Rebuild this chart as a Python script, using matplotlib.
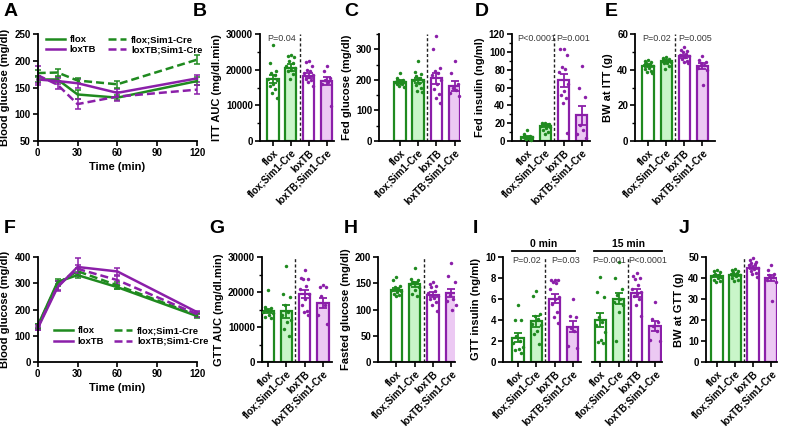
import matplotlib
matplotlib.use('Agg')
import matplotlib.pyplot as plt
import numpy as np
from matplotlib.ticker import MultipleLocator
from matplotlib.lines import Line2D

plt.rcParams['font.family'] = ['Liberation Sans', 'DejaVu Sans']
plt.rcParams['font.weight'] = 'bold'
plt.rcParams['axes.labelweight'] = 'bold'

GREEN = '#1f8a1f'
PURPLE = '#8b1fa9'
LGREEN = '#c9f5c9'
LPURPLE = '#ecc9f3'

groups = ['flox', 'flox;Sim1-Cre', 'loxTB', 'loxTB;Sim1-Cre']

# ---------------- line chart data ----------------
time = [0, 15, 30, 60, 120]
itt_flox = [165, 165, 137, 131, 162]
itt_flox_sem = [5, 5, 8, 5, 8]
itt_floxcre = [177, 178, 163, 156, 202]
itt_floxcre_sem = [6, 6, 5, 6, 9]
itt_lox = [165, 162, 158, 140, 167]
itt_lox_sem = [6, 5, 8, 8, 7]
itt_loxcre = [173, 155, 119, 133, 146]
itt_loxcre_sem = [18, 8, 10, 8, 9]

gtt_flox = [138, 305, 331, 285, 175]
gtt_flox_sem = [8, 10, 10, 8, 7]
gtt_floxcre = [135, 300, 346, 292, 178]
gtt_floxcre_sem = [8, 10, 12, 12, 8]
gtt_lox = [128, 285, 362, 345, 190]
gtt_lox_sem = [6, 12, 35, 12, 6]
gtt_loxcre = [132, 290, 355, 312, 182]
gtt_loxcre_sem = [10, 20, 15, 15, 10]

# ---------------- bar chart data ----------------
# B: ITT AUC
B_mean = [17400, 20600, 18300, 16800]
B_sem = [1000, 900, 700, 1100]
B_dots = [[27000, 22000, 19500, 19000, 18500, 17500, 17000, 16000, 15500, 14500, 13500, 12000],
          [24000, 23800, 23500, 22500, 21800, 21000, 20500, 20000, 19500, 18800, 17500],
          [22300, 22100, 21000, 20000, 19500, 19000, 18500, 18000, 17500, 17000, 16500, 15500],
          [21000, 19600, 17800, 17000, 16500, 16000, 9800]]
# C: Fed glucose
C_mean = [194, 199, 205, 180]
C_sem = [4, 8, 18, 15]
C_dots = [[223, 205, 200, 198, 196, 194, 192, 190, 188, 185, 180, 176],
          [262, 225, 220, 212, 205, 200, 195, 190, 183, 175, 165, 160],
          [345, 300, 240, 230, 222, 215, 200, 185, 170, 155, 140, 125],
          [262, 222, 185, 175, 168, 158, 148]]
# D: Fed insulin
D_mean = [5.0, 17.0, 68.0, 28.7]
D_sem = [1.0, 1.8, 7.5, 11.0]
D_dots = [[12, 8, 6, 5, 5, 4, 4, 3, 3, 2, 2, 1],
          [20, 20, 19.5, 19, 18, 17, 16, 15, 12, 10, 8],
          [103, 103, 96, 83, 81, 77, 64, 56, 52, 48.5, 43, 9.5],
          [84, 60, 49, 18, 12, 8, 3]]
# E: BW at ITT
E_mean = [42.1, 44.9, 47.4, 42.1]
E_sem = [0.8, 0.7, 0.8, 1.6]
E_dots = [[45.5, 45, 44.5, 44, 43, 42.5, 42, 41, 40.5, 39.5, 38.5, 38],
          [47, 46.5, 46, 45.5, 45, 45, 44.5, 44, 43.5, 42, 40.5],
          [52.5, 51, 50.5, 50, 49, 48, 47.5, 47, 46, 45, 44.5, 43.5],
          [47.8, 45.5, 44.5, 43.5, 42.5, 41, 40, 31.4]]
# G: GTT AUC
G_mean = [14570, 14480, 19430, 16860]
G_sem = [700, 1800, 1200, 1500]
G_dots = [[20700, 15700, 15400, 15000, 14600, 14300, 14000, 13500, 13000, 12600],
          [27400, 19300, 18500, 16200, 14300, 13300, 12000, 11400, 9500, 7400],
          [26200, 24000, 23800, 23600, 21700, 20800, 19300, 18100, 16200, 14500, 14300, 13300],
          [22000, 21500, 21300, 19000, 16200, 13300, 11000]]
# H: Fasted glucose
H_mean = [138, 148, 128, 132]
H_sem = [3.5, 4.5, 4.5, 8]
H_dots = [[162, 156, 145, 143, 140, 138, 136, 133, 130, 127, 125],
          [180, 159, 156, 153, 150, 148, 143, 137, 130, 125],
          [152, 148, 145, 142, 136, 131, 126, 121, 120, 115, 108, 98],
          [189, 164, 152, 127, 120, 117, 109, 100]]
# I: GTT insulin, 0 min and 15 min
I0_mean = [2.32, 3.87, 6.03, 3.37]
I0_sem = [0.45, 0.5, 0.4, 0.55]
I0_dots = [[5.4, 4.0, 4.0, 2.5, 2.0, 1.8, 1.4, 1.2, 1.1, 0.9],
           [6.8, 6.3, 4.6, 4.4, 4.1, 3.6, 3.5, 3.0, 2.7, 1.7],
           [7.8, 7.8, 7.8, 7.6, 7.5, 7.0, 6.2, 6.0, 5.5, 4.8, 4.3, 3.7],
           [6.0, 4.4, 4.3, 3.2, 3.0, 1.5, 1.3]]
I15_mean = [4.03, 6.03, 6.57, 3.43]
I15_sem = [0.65, 0.55, 0.35, 0.45]
I15_dots = [[8.1, 6.7, 6.2, 4.3, 3.8, 3.5, 2.9, 2.1, 1.9, 1.8],
            [9.5, 8.0, 7.0, 6.4, 6.0, 5.7, 5.4, 4.8, 2.0],
            [8.5, 8.2, 8.0, 7.9, 7.3, 7.0, 6.7, 6.5, 6.3, 6.0, 5.4, 4.4],
            [5.7, 4.1, 3.8, 3.4, 3.0, 2.1, 2.0]]
# J: BW at GTT
J_mean = [40.95, 41.6, 44.9, 40.0]
J_sem = [0.6, 0.5, 0.7, 1.5]
J_dots = [[43.7, 43.2, 42.8, 42, 41.5, 41, 40.5, 40, 39, 38.5, 38],
          [44.5, 44, 43.5, 43, 42.5, 42, 41.5, 41, 40, 39, 38.5],
          [49.5, 48.5, 47.5, 47, 46.5, 46, 45, 44.5, 43.5, 42.5, 42, 40.5],
          [46.3, 43.6, 42, 41.2, 40.5, 39, 38, 28.9]]

# ---------------- figure ----------------
W, H = 786, 429
fig = plt.figure(figsize=(W / 100, H / 100), dpi=100)

def add_ax(x0, x1, ytop, ybot):
    return fig.add_axes([x0 / W, 1 - ybot / H, (x1 - x0) / W, (ybot - ytop) / H])

TICK_FS = 7
LABEL_FS = 8
XT_FS = 6.8

def style(ax):
    for s in ['top', 'right']:
        ax.spines[s].set_visible(False)
    for s in ['left', 'bottom']:
        ax.spines[s].set_linewidth(1.3)
    ax.tick_params(which='major', direction='out', length=3.5, width=1.2,
                   labelsize=TICK_FS, pad=1.5)
    ax.tick_params(which='minor', direction='out', length=2, width=1.0)
    for lab in ax.get_yticklabels() + ax.get_xticklabels():
        lab.set_fontweight('bold')

fills = ['white', LGREEN, 'white', LPURPLE]
edges = [GREEN, GREEN, PURPLE, PURPLE]
OFFS = [0.0, -0.18, 0.18, -0.09, 0.09, -0.25, 0.25, 0.03, -0.14, 0.14, -0.04, 0.21]

def draw_bars(ax, xs, means, sems, dots):
    ax.bar(xs, means, width=0.62, color=fills, edgecolor=edges, linewidth=1.6, zorder=2)
    for i, x in enumerate(xs):
        d = dots[i]
        dx = [x + OFFS[k % len(OFFS)] for k in range(len(d))]
        ax.plot(dx, d, 'o', ms=2.5, color=edges[i], mec='none', zorder=3, clip_on=False)
        ax.errorbar([x], [means[i]], yerr=[sems[i]], fmt='none', ecolor=edges[i],
                    elinewidth=1.3, capsize=3, capthick=1.3, zorder=4)

def bar_panel(px, ylab, means, sems, dots, ylim, major, minor, xlim):
    ax = add_ax(*px)
    xs = np.arange(4)
    draw_bars(ax, xs, means, sems, dots)
    ax.axvline(1.5, color='#222222', lw=1.0, ls=(0, (2.2, 1.6)), zorder=1)
    ax.set_xlim(*xlim)
    ax.set_ylim(*ylim)
    ax.yaxis.set_major_locator(MultipleLocator(major))
    if minor:
        ax.yaxis.set_minor_locator(MultipleLocator(minor))
    ax.set_xticks(xs)
    ax.set_xticklabels(groups, rotation=45, ha='right', rotation_mode='anchor',
                       fontsize=XT_FS, fontweight='bold')
    ax.set_ylabel(ylab, fontsize=LABEL_FS, fontweight='bold', labelpad=3)
    style(ax)
    return ax

def ptext(ax, x, y, s):
    ax.text(x, y, s, ha='center', va='center', fontsize=6.5, fontweight='normal',
            color='#3a3a3a', zorder=5)

def letter(x, y, s):
    fig.text(x / W, 1 - y / H, s, fontsize=14, fontweight='bold', va='top', ha='left')

# ---------------- A: ITT ----------------
axA = add_ax(37.7, 197, 34, 141)
series = [(itt_flox, itt_flox_sem, GREEN, '-', 'flox'),
          (itt_lox, itt_lox_sem, PURPLE, '-', 'loxTB'),
          (itt_floxcre, itt_floxcre_sem, GREEN, (0, (3.2, 1.6)), 'flox;Sim1-Cre'),
          (itt_loxcre, itt_loxcre_sem, PURPLE, (0, (3.2, 1.6)), 'loxTB;Sim1-Cre')]
for y, e, c, ls, lab in series:
    axA.errorbar(time, y, yerr=e, color=c, ls=ls, lw=1.8, elinewidth=1.1,
                 capsize=2.5, capthick=1.1, clip_on=False, label=lab)
axA.set_xlim(0, 120)
axA.set_ylim(50, 250)
axA.set_xticks([0, 30, 60, 90, 120])
axA.set_yticks([50, 100, 150, 200, 250])
axA.set_xlabel('Time (min)', fontsize=LABEL_FS, fontweight='bold', labelpad=3)
axA.set_ylabel('Blood glucose (mg/dl)', fontsize=LABEL_FS, fontweight='bold', labelpad=3)
style(axA)
hA = [Line2D([], [], color=c, ls=ls, lw=1.8) for _, _, c, ls, _ in series]
axA.legend(hA, [s[4] for s in series], ncol=2, loc='upper left', bbox_to_anchor=(0.0, 1.07),
           frameon=False, handlelength=2.0, columnspacing=1.2,
           labelspacing=0.15, handletextpad=0.5, prop={'weight': 'bold', 'size': 6.8})

# ---------------- F: GTT ----------------
axF = add_ax(37.7, 197, 257, 362)
series = [(gtt_flox, gtt_flox_sem, GREEN, '-', 'flox'),
          (gtt_lox, gtt_lox_sem, PURPLE, '-', 'loxTB'),
          (gtt_floxcre, gtt_floxcre_sem, GREEN, (0, (3.2, 1.6)), 'flox;Sim1-Cre'),
          (gtt_loxcre, gtt_loxcre_sem, PURPLE, (0, (3.2, 1.6)), 'loxTB;Sim1-Cre')]
for y, e, c, ls, lab in series:
    axF.errorbar(time, y, yerr=e, color=c, ls=ls, lw=1.8, elinewidth=1.1,
                 capsize=2.5, capthick=1.1, clip_on=False, label=lab)
axF.set_xlim(0, 120)
axF.set_ylim(0, 400)
axF.set_xticks([0, 30, 60, 90, 120])
axF.set_yticks([0, 100, 200, 300, 400])
axF.set_xlabel('Time (min)', fontsize=LABEL_FS, fontweight='bold', labelpad=3)
axF.set_ylabel('Blood glucose (mg/dl)', fontsize=LABEL_FS, fontweight='bold', labelpad=3)
style(axF)
hF = [Line2D([], [], color=c, ls=ls, lw=1.8) for _, _, c, ls, _ in series]
axF.legend(hF, [s[4] for s in series], ncol=2, loc='upper left', bbox_to_anchor=(0.05, 0.42),
           frameon=False, handlelength=2.0, columnspacing=1.0,
           labelspacing=0.15, handletextpad=0.5, prop={'weight': 'bold', 'size': 6.8})

# ---------------- top bar panels ----------------
axB = bar_panel((260, 334, 34, 141), 'ITT AUC (mg/dl.min)', B_mean, B_sem, B_dots,
                (0, 30000), 10000, 5000, (-0.72, 3.4))
ptext(axB, 0.5, 28600, 'P=0.04')

axC = bar_panel((379, 460, 34, 141), 'Fed glucose (mg/dl)', C_mean, C_sem, C_dots,
                (0, 350), 100, 50, (-1.15, 3.3))

axD = bar_panel((512, 590, 34, 141), 'Fed insulin (ng/ml)', D_mean, D_sem, D_dots,
                (0, 120), 20, 10, (-0.83, 3.45))
ptext(axD, 0.5, 115.5, 'P<0.0001')
ptext(axD, 2.55, 115.5, 'P=0.001')

axE = bar_panel((635, 715, 34, 141), 'BW at ITT (g)', E_mean, E_sem, E_dots,
                (0, 60), 20, 10, (-0.72, 3.7))
ptext(axE, 0.5, 57.5, 'P=0.02')
ptext(axE, 2.6, 57.5, 'P=0.005')

# ---------------- bottom bar panels ----------------
axG = bar_panel((262, 332, 257, 362), 'GTT AUC (mg/dl.min)', G_mean, G_sem, G_dots,
                (0, 30000), 10000, 5000, (-0.33, 3.5))
axH = bar_panel((378, 455, 257, 362), 'Fasted glucose (mg/dl)', H_mean, H_sem, H_dots,
                (0, 200), 50, None, (-1.0, 3.2))
axJ = bar_panel((706, 777, 257, 362), 'BW at GTT (g)', J_mean, J_sem, J_dots,
                (0, 50), 10, None, (-0.61, 3.33))

# ---------------- I: GTT insulin ----------------
axI = add_ax(503, 662, 257, 362)
x0 = np.arange(4)
x15 = np.arange(4) + 4.5
draw_bars(axI, x0, I0_mean, I0_sem, I0_dots)
draw_bars(axI, x15, I15_mean, I15_sem, I15_dots)
axI.axvline(1.5, color='#222222', lw=1.0, ls=(0, (2.2, 1.6)), zorder=1)
axI.axvline(6.0, color='#222222', lw=1.0, ls=(0, (2.2, 1.6)), zorder=1)
axI.set_xlim(-0.82, 7.88)
axI.set_ylim(0, 10)
axI.yaxis.set_major_locator(MultipleLocator(2))
axI.set_xticks(np.concatenate([x0, x15]))
axI.set_xticklabels(groups * 2, rotation=45, ha='right', rotation_mode='anchor',
                    fontsize=XT_FS, fontweight='bold')
axI.set_ylabel('GTT insulin (ng/ml)', fontsize=LABEL_FS, fontweight='bold', labelpad=3)
style(axI)
axI.spines['bottom'].set_visible(False)
tr = axI.get_xaxis_transform()
axI.plot([-0.82, 3.45], [0, 0], color='black', lw=1.3, transform=tr, clip_on=False)
axI.plot([4.05, 7.88], [0, 0], color='black', lw=1.3, transform=tr, clip_on=False)
for (a, b), s in [((-0.33, 3.11), '0 min'), ((4.17, 7.88), '15 min')]:
    axI.plot([a, b], [1.057, 1.057], color='black', lw=1.3, transform=tr, clip_on=False)
    axI.text((a + b) / 2, 1.075, s, transform=tr, ha='center', va='bottom',
             fontsize=7.5, fontweight='bold')
ptext(axI, 0.5, 9.65, 'P=0.02')
ptext(axI, 2.6, 9.65, 'P=0.03')
ptext(axI, 5.0, 9.65, 'P=0.001')
ptext(axI, 7.1, 9.65, 'P<0.0001')

# ---------------- panel letters ----------------
letter(4, 3, 'A')
letter(193, 3, 'B')
letter(344, 3, 'C')
letter(475, 3, 'D')
letter(605, 3, 'E')
letter(4, 220, 'F')
letter(209, 220, 'G')
letter(344, 220, 'H')
letter(473, 220, 'I')
letter(679, 220, 'J')

fig.savefig('out.png', dpi=100)
